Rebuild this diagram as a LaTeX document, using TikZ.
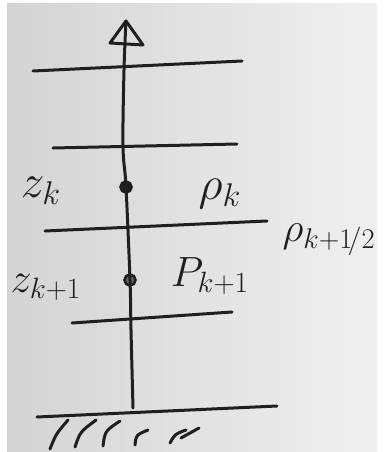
\documentclass[tikz,border=0pt]{standalone}
\usetikzlibrary{arrows.meta}
\newcommand{\bigtxt}[2]{\scalebox{#1}{#2}}
\begin{document}
\begin{tikzpicture}[x=1pt,y=-1pt,
  ink/.style={line width=3pt, line cap=round, line join=round, draw=black!88},
  lab/.style={font=\fontsize{24}{28}\selectfont, inner sep=0pt, text=black!88},
  dot/.style={circle, inner sep=0pt, minimum size=11pt, line width=2.6pt, draw=black!88}]
\useasboundingbox (0,0) rectangle (383,452);
\fill[white] (0,0) rectangle (383,452);
\shade[left color=black!17, right color=black!6] (7,4) rectangle (377,452);
% points on the axis
\coordinate (base) at (133,408);
\coordinate (tip) at (126,21);
\coordinate (ahl) at (110,43);
\coordinate (ahr) at (143,45);
% level lines
\coordinate (l1a) at (33,71);  \coordinate (l1b) at (242,61);
\coordinate (l2a) at (53,148); \coordinate (l2b) at (237,144);
\coordinate (l3a) at (45,231); \coordinate (l3b) at (267,221);
\coordinate (l4a) at (72,323); \coordinate (l4b) at (232,312);
\coordinate (ga) at (37,417);  \coordinate (gb) at (277,406);
\draw[ink] (l1a) -- (l1b);
\draw[ink] (l2a) -- (l2b);
\draw[ink] (l3a) -- (l3b);
\draw[ink] (l4a) -- (l4b);
\draw[ink] (ga) -- (gb);
% axis
\node[dot, fill=black!88] (zk) at (126,187) {};
\node[dot, fill=black!60] (zk1) at (130,280) {};
\draw[ink] plot[smooth, tension=0.6] coordinates {(base) (131,330) (zk1.center) (zk.center) (123,146) (124,70) (tip)};
\draw[ink] (ahl) -- (tip) -- (ahr) -- cycle;
% hatching
\draw[ink] (50,449) .. controls (56,434) .. (68,420);
\draw[ink] (75,447) .. controls (80,432) .. (96,420);
\draw[ink] (103,446) .. controls (105,431) .. (120,421);
\draw[ink] (135,445) .. controls (136,435) .. (148,430);
\draw[ink] (170,443) .. controls (175,434) .. (186,430);
\draw[ink] (181,438) -- (199,428);
% labels
\node[lab] (tzk) at (41,191) {\bigtxt{1.9}{$z_k$}};
\node[lab] (tzk1) at (46,287) {\bigtxt{1.7}{$z_{k+1}$}};
\node[lab] (tpk) at (220,194) {\bigtxt{1.9}{$\rho_k$}};
\node[lab] (tph) at (329,240) {\bigtxt{1.65}{$\rho_{k+1\!/2}$}};
\node[lab] (tpk1) at (210,276) {\bigtxt{1.7}{$P_{k+1}$}};
\end{tikzpicture}
\end{document}
